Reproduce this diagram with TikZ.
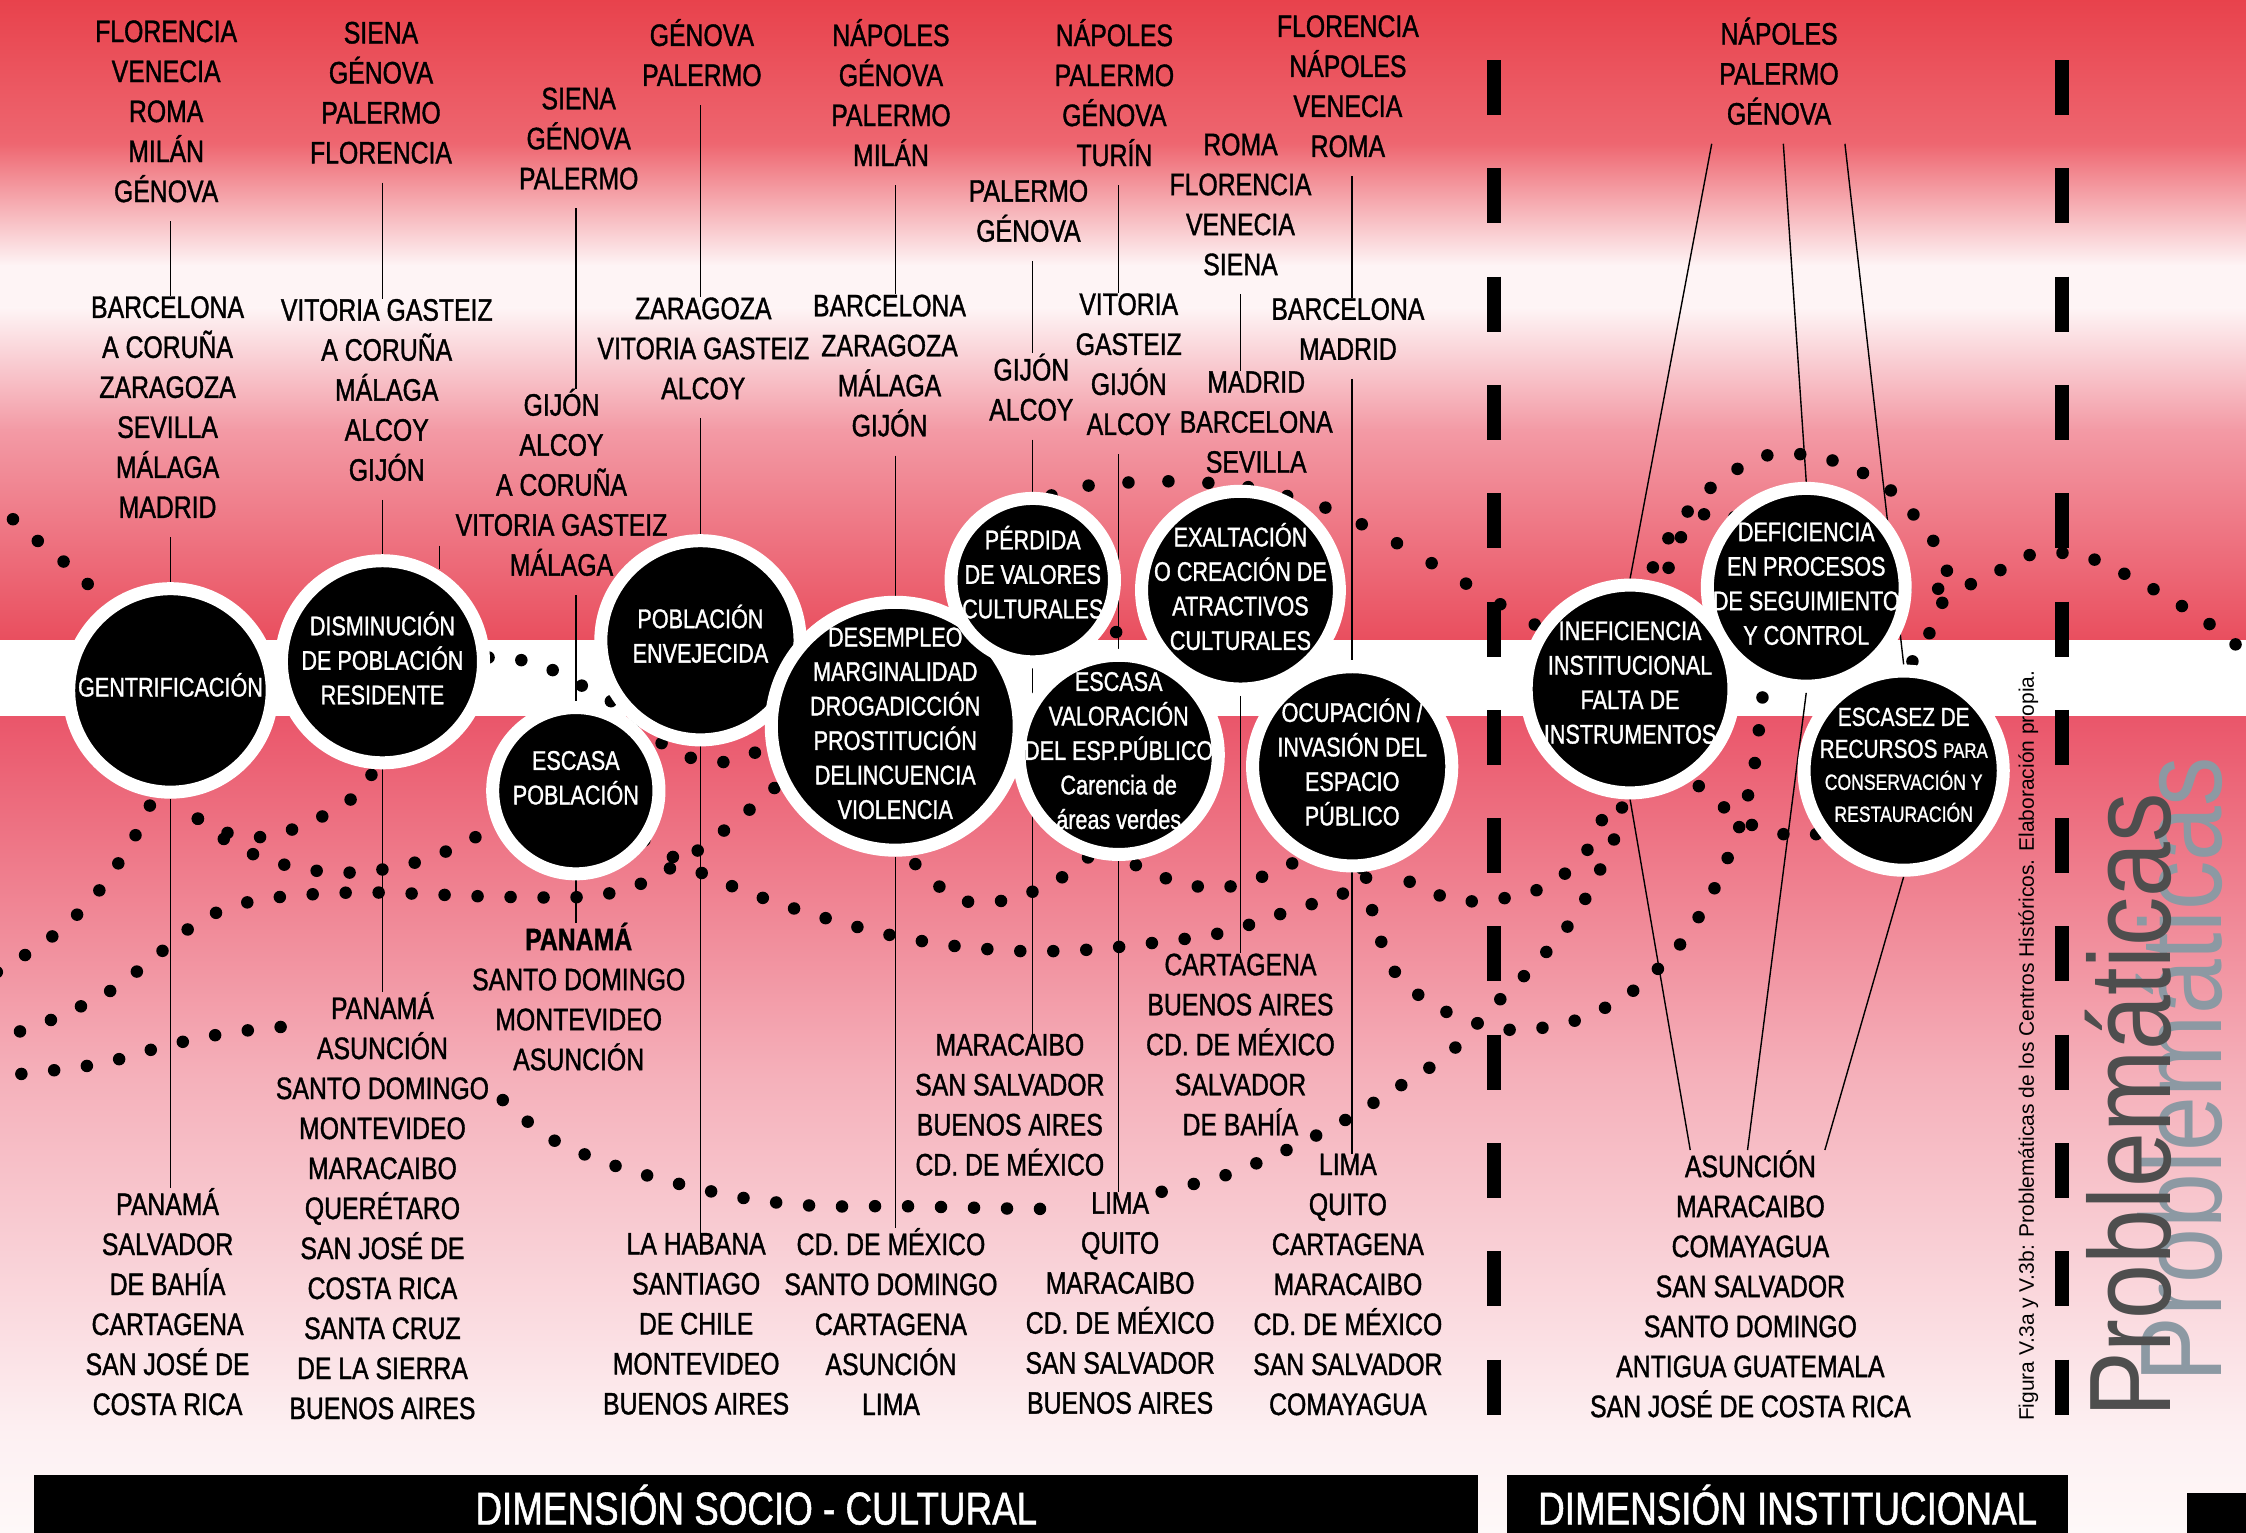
\documentclass[tikz,border=0pt]{standalone}
\usepackage{fontspec}
\setmainfont{Liberation Sans}
\newfontfamily\nar[FakeStretch=0.80,FakeBold=1.2]{Liberation Sans}
\newfontfamily\probf[FakeStretch=0.85]{Liberation Sans}
\usetikzlibrary{calc}
\pgfdeclarelayer{bgl}
\pgfdeclarelayer{lin}
\pgfsetlayers{bgl,lin,main}
\definecolor{rA}{HTML}{E8424C}
\definecolor{rB}{HTML}{EE6670}
\definecolor{wA}{HTML}{FEF4F5}
\definecolor{pA}{HTML}{F39AA5}
\definecolor{rC}{HTML}{E94E5E}
\definecolor{rD}{HTML}{EA566A}
\definecolor{pB}{HTML}{F5B0BA}
\definecolor{pC}{HTML}{FDF0F2}
\definecolor{pD}{HTML}{FEF8F8}
\definecolor{gdark}{HTML}{4E4E4E}
\definecolor{glight}{HTML}{8C99A3}
\begin{document}
\begin{tikzpicture}[x=1.4324pt,y=-1.4324pt,
  city/.style={font={\nar\fontsize{31}{40}\selectfont}, align=center, inner sep=0pt, text=black, yshift=-9pt,
    execute at begin node={\rule{0pt}{43pt}}, execute at end node={\rule[-19pt]{0pt}{19pt}}},
  ctext/.style={font={\nar\fontsize{27}{34.5}\selectfont}, align=center, text=white, inner sep=0pt,
    execute at begin node={\rule{0pt}{24pt}}, execute at end node={\rule[-6pt]{0pt}{6pt}}},
  prob/.style={circle, fill=black, draw=white, line width=13pt, minimum size=#1, inner sep=0pt},
  vline/.style={line width=1.4pt, draw=black},
  dots/.style={draw=black, line width=12.5pt, line cap=round, dash pattern=on 0pt off #1},
  dots/.default=33pt,
  dashv/.style={draw=black, line width=14pt, dash pattern=on 55pt off 53.3pt},
  bartext/.style={fill=black, text=white, inner sep=0pt, font={\nar\fontsize{46}{46}\selectfont}}
]
\useasboundingbox (0,0) rectangle (1568,1070.23);
% ---------- background ----------
\begin{pgfonlayer}{bgl}
\fill[top color=rA, bottom color=rB] (0,0) rectangle (1568,100.5);
\fill[top color=rB, bottom color=wA] (0,100) rectangle (1568,185.5);
\fill[wA] (0,185) rectangle (1568,215.5);
\fill[top color=wA, bottom color=pA] (0,215) rectangle (1568,300.5);
\fill[top color=pA, bottom color=rC] (0,300) rectangle (1568,447.5);
\fill[white] (0,447) rectangle (1568,500.5);
\fill[top color=rD, bottom color=pB] (0,500) rectangle (1568,750.5);
\fill[top color=pB, bottom color=pC] (0,750) rectangle (1568,1000.5);
\fill[top color=pC, bottom color=pD] (0,1000) rectangle (1568,1070.23);
\end{pgfonlayer}
% ---------- city groups ----------
\node[city] (t1) at (116,78) {FLORENCIA\\VENECIA\\ROMA\\MILÁN\\GÉNOVA};
\node[city] (m1) at (117,284.5) {BARCELONA\\A CORUÑA\\ZARAGOZA\\SEVILLA\\MÁLAGA\\MADRID};
\node[city] (b1) at (117,909) {PANAMÁ\\SALVADOR\\DE BAHÍA\\CARTAGENA\\SAN JOSÉ DE\\COSTA RICA};
\node[city] (t2) at (266,65) {SIENA\\GÉNOVA\\PALERMO\\FLORENCIA};
\node[city] (m2) at (270,272.5) {VITORIA GASTEIZ\\A CORUÑA\\MÁLAGA\\ALCOY\\GIJÓN};
\node[city] (b2) at (267,842) {PANAMÁ\\ASUNCIÓN\\SANTO DOMINGO\\MONTEVIDEO\\MARACAIBO\\QUERÉTARO\\SAN JOSÉ DE\\COSTA RICA\\SANTA CRUZ\\DE LA SIERRA\\BUENOS AIRES};
\node[city] (t3) at (404,97) {SIENA\\GÉNOVA\\PALERMO};
\node[city] (m3) at (392,337) {GIJÓN\\ALCOY\\A CORUÑA\\VITORIA GASTEIZ\\MÁLAGA};
\node[city] (b3) at (404,696) {\textbf{PANAMÁ}\\SANTO DOMINGO\\MONTEVIDEO\\ASUNCIÓN};
\node[city] (t4) at (490,37) {GÉNOVA\\PALERMO};
\node[city] (m4) at (491,243.5) {ZARAGOZA\\VITORIA GASTEIZ\\ALCOY};
\node[city] (b4) at (486,924.5) {LA HABANA\\SANTIAGO\\DE CHILE\\MONTEVIDEO\\BUENOS AIRES};
\node[city] (t5) at (622,65) {NÁPOLES\\GÉNOVA\\PALERMO\\MILÁN};
\node[city] (m5) at (621,255.5) {BARCELONA\\ZARAGOZA\\MÁLAGA\\GIJÓN};
\node[city] (b5) at (622,923) {CD. DE MÉXICO\\SANTO DOMINGO\\CARTAGENA\\ASUNCIÓN\\LIMA};
\node[city] (t6) at (718,147.5) {PALERMO\\GÉNOVA};
\node[city] (m6) at (720,270.5) {GIJÓN\\ALCOY};
\node[city] (b6) at (705,771.5) {MARACAIBO\\SAN SALVADOR\\BUENOS AIRES\\CD. DE MÉXICO};
\node[city] (t7) at (778,65) {NÁPOLES\\PALERMO\\GÉNOVA\\TURÍN};
\node[city] (m7) at (788,254.5) {VITORIA\\GASTEIZ\\GIJÓN\\ALCOY};
\node[city] (b7) at (782,910) {LIMA\\QUITO\\MARACAIBO\\CD. DE MÉXICO\\SAN SALVADOR\\BUENOS AIRES};
\node[city] (t8) at (866,143) {ROMA\\FLORENCIA\\VENECIA\\SIENA};
\node[city] (m8) at (877,295) {MADRID\\BARCELONA\\SEVILLA};
\node[city] (b8) at (866,729.5) {CARTAGENA\\BUENOS AIRES\\CD. DE MÉXICO\\SALVADOR\\DE BAHÍA};
\node[city] (t9) at (941,60.5) {FLORENCIA\\NÁPOLES\\VENECIA\\ROMA};
\node[city] (m9) at (941,230) {BARCELONA\\MADRID};
\node[city] (b9) at (941,897) {LIMA\\QUITO\\CARTAGENA\\MARACAIBO\\CD. DE MÉXICO\\SAN SALVADOR\\COMAYAGUA};
\node[city] (t10) at (1242,50) {NÁPOLES\\PALERMO\\GÉNOVA};
\node[city] (b10) at (1222,896.5) {ASUNCIÓN\\MARACAIBO\\COMAYAGUA\\SAN SALVADOR\\SANTO DOMINGO\\ANTIGUA GUATEMALA\\SAN JOSÉ DE COSTA RICA};
% ---------- circles ----------
\node[prob=203.5pt] (gen) at (119,482) {};
\node[prob=202.1pt] (dis) at (267,462) {};
\node[prob=166.3pt] (esc) at (402,552) {};
\node[prob=199.2pt] (pob) at (489,447) {};
\node[prob=247.9pt] (des) at (625,507) {};
\node[prob=163.4pt] (per) at (721,405) {};
\node[prob=197.8pt] (exa) at (866,412) {};
\node[prob=199.2pt] (val) at (781,527) {};
\node[prob=199.2pt] (ocu) at (944,535) {};
\node[prob=197.8pt] (def) at (1261,410) {};
\node[prob=207.8pt] (ine) at (1138,481) {};
\node[prob=199.2pt] (ecz) at (1329,538) {};
\node[ctext] (gen-t) at (119,480) {GENTRIFICACIÓN};
\node[ctext] (dis-t) at (267,461.5) {DISMINUCIÓN\\DE POBLACIÓN\\RESIDENTE};
\node[ctext] (esc-t) at (402,545) {ESCASA\\POBLACIÓN};
\node[ctext] (pob-t) at (489,444.5) {POBLACIÓN\\ENVEJECIDA};
\node[ctext] (des-t) at (625,507) {DESEMPLEO\\MARGINALIDAD\\DROGADICCIÓN\\PROSTITUCIÓN\\DELINCUENCIA\\VIOLENCIA};
\node[ctext] (per-t) at (721,401.5) {PÉRDIDA\\DE VALORES\\CULTURALES};
\node[ctext] (exa-t) at (866,411.5) {EXALTACIÓN\\O CREACIÓN DE\\ATRACTIVOS\\CULTURALES};
\node[ctext] (val-t) at (781,526) {ESCASA\\VALORACIÓN\\DEL ESP.PÚBLICO\\Carencia de\\áreas verdes};
\node[ctext] (ocu-t) at (944,534) {OCUPACIÓN /\\INVASIÓN DEL\\ESPACIO\\PÚBLICO};
\node[ctext] (ine-t) at (1138,478.5) {INEFICIENCIA\\INSTITUCIONAL\\FALTA DE\\INSTRUMENTOS};
\node[ctext] (def-t) at (1261,409.5) {DEFICIENCIA\\EN PROCESOS\\DE SEGUIMIENTO\\Y CONTROL};
\node[ctext, font={\nar\fontsize{26}{32}\selectfont}] (ecz-t) at (1329,536) {ESCASEZ DE\\RECURSOS {\fontsize{21}{32}\selectfont PARA}\\{\fontsize{22}{32}\selectfont CONSERVACIÓN Y}\\{\fontsize{22}{32}\selectfont RESTAURACIÓN}};
% ---------- connectors and dotted curves ----------
\begin{pgfonlayer}{lin}
\draw[vline] (t1.south -| gen) -- (m1.north -| gen);
\draw[vline] (m1.south -| gen) -- (gen);
\draw[vline] (gen) -- (b1.north -| gen);
\draw[vline] (t2.south -| dis) -- (m2.north -| dis);
\draw[vline] (m2.south -| dis) -- (dis);
\draw[vline] (dis) -- (b2.north -| dis);
\coordinate (stubA) at (307,381);
\coordinate (stubB) at (307,397);
\draw[vline] (stubA) -- (stubB);
\draw[vline] (t3.south -| esc) -- (m3.north -| esc);
\draw[vline] (m3.south -| esc) -- (esc);
\draw[vline] (esc) -- (b3.north -| esc);
\draw[vline] (t4.south -| pob) -- (m4.north -| pob);
\draw[vline] (m4.south -| pob) -- (pob);
\draw[vline] (pob) -- (b4.north -| pob);
\draw[vline] (t5.south -| des) -- (m5.north -| des);
\draw[vline] (m5.south -| des) -- (des);
\draw[vline] (des) -- (b5.north -| des);
\draw[vline] (t6.south -| per) -- (m6.north -| per);
\draw[vline] (m6.south -| per) -- (per);
\draw[vline] (per) -- (b6.north -| per);
\draw[vline] (t7.south -| val) -- (m7.north -| val);
\draw[vline] (m7.south -| val) -- (val);
\draw[vline] (val) -- (b7.north -| val);
\draw[vline] (t8.south -| exa) -- (m8.north -| exa);
\draw[vline] (m8.south -| exa) -- (exa);
\draw[vline] (exa) -- (b8.north -| exa);
\draw[vline] (t9.south -| ocu) -- (m9.north -| ocu);
\draw[vline] (m9.south -| ocu) -- (ocu);
\draw[vline] (ocu) -- (b9.north -| ocu);
\path (t10.south) ++(-47,0) coordinate (fa) ++(50,0) coordinate (fb) ++(43,0) coordinate (fc);
\path (b10.north) ++(-42,0) coordinate (ga) ++(40,0) coordinate (gb) ++(54,0) coordinate (gc);
\draw[vline] (fa) -- (ine.north);
\draw[vline] (fb) -- (def.north);
\draw[vline] (fc) -- (ecz.north);
\draw[vline] (ine.south) -- (ga);
\draw[vline] (def.south) -- (gb);
\draw[vline] (ecz.south) -- (gc);
% dotted curves
\draw[dots] plot[smooth] coordinates {(-8,347) (22,374) (57,403) (90,440) (150,462) (267,456) (330,457) (345,460) (365,461) (384,467) (403,477) (422,487) (438,497) (454,512) (469,524) (486,530) (505,532) (523,527) (560,512)};
\draw[dots] plot[smooth] coordinates {(-8,727) (31,714) (75,693) (106,670) (141,642) (182,628) (251,623) (345,626) (409,626) (445,618) (481,598) (514,573) (542,549) (565,530)};
\draw[dots] plot[smooth] coordinates {(110,540) (103,567) (85,599) (65,627) (40,651) (14,669) (-8,682)};
\draw[dots] plot[smooth] coordinates {(119,530) (135,568) (152,579) (171,584) (192,583) (225,570) (256,548) (267,510)};
\draw[dots] plot[smooth] coordinates {(119,530) (135,568) (167,592) (208,606) (251,609) (294,601) (331,585) (360,565)};
\draw[dots] plot[smooth] coordinates {(-8,752) (31,748) (73,742) (116,730) (160,721) (206,716)};
\draw[dots] plot[smooth] coordinates {(351,768) (383,794) (424,812) (472,826) (523,837) (572,842) (624,842) (674,843) (722,844) (745,843)};
\draw[dots] plot[smooth] coordinates {(811,832) (857,820) (900,802) (939,782) (976,759) (1011,736) (1041,704) (1072,673) (1100,639) (1121,599) (1130,576) (1136,540)};
\draw[dots] plot[smooth] coordinates {(430,575) (459,592) (493,611) (533,627) (573,640) (618,652) (663,660) (713,664) (760,663) (807,658) (854,651) (900,636) (941,622) (951,603) (946,570)};
\draw[dots] plot[smooth] coordinates {(625,560) (635,598) (667,627) (689,629) (710,627) (746,610) (760,598) (781,560)};
\draw[dots] plot[smooth] coordinates {(781,560) (792,603) (829,617) (848,620) (870,616) (908,599) (944,560)};
\draw[dots=40pt] plot[smooth] coordinates {(721,400) (734,346) (760,339) (815,336) (871,340) (927,355) (973,378) (1011,400) (1051,424) (1070,435) (1120,470)};
\draw[dots] plot[smooth] coordinates {(721,405) (760,425) (775,437) (788,453) (795,480)};
\draw[dots] plot[smooth] coordinates {(1140,440) (1157,389) (1187,347) (1224,321) (1248,317) (1275,320) (1316,339) (1348,375) (1360,405) (1347,442) (1335,462) (1329,500)};
\draw[dots] plot[smooth] coordinates {(1150,440) (1172,378) (1188,360) (1205,357) (1225,375)};
\draw[dots] plot[smooth] coordinates {(1261,410) (1334,412) (1379,407) (1412,389) (1434,386) (1458,389) (1501,410) (1543,436) (1580,466)};
\draw[dots] plot[smooth] coordinates {(950,590) (960,644) (977,683) (1013,708) (1055,719) (1098,713) (1137,694) (1170,663) (1194,626) (1213,581) (1224,539) (1229,500) (1232,480) (1245,450)};
\draw[dots] plot[smooth] coordinates {(944,560) (975,608) (994,620) (1017,629) (1042,628) (1066,624) (1087,614) (1105,598) (1117,576) (1125,550)};
\draw[dots] plot[smooth] coordinates {(1150,520) (1185,548) (1200,561) (1221,575) (1243,582) (1266,583) (1290,570)};
\end{pgfonlayer}
% ---------- dashed separators ----------
\draw[dashv] (1043,41.9) -- (1043,988);
\draw[dashv] (1439.6,41.9) -- (1439.6,988);
% ---------- titles ----------
\node[rotate=90, inner sep=0pt, font={\fontsize{21}{21}\selectfont}] (caption) at (1416,730) {Figura V.3a y V.3b: Problemáticas de los Centros Históricos. Elaboración propia.};
\node[rotate=90, anchor=base west, inner sep=0pt, text=glight, font={\probf\fontsize{116}{116}\selectfont}] (probl) at (1551,965) {Problemáticas};
\node[rotate=90, anchor=base west, inner sep=0pt, text=gdark, font={\probf\fontsize{116}{116}\selectfont}] (probd) at (1515,990) {Problemáticas};
\node[bartext, minimum width=1443.9pt, minimum height=58.7pt] (bar1) at (528,1050.5) {DIMENSIÓN SOCIO - CULTURAL};
\node[bartext, minimum width=561.5pt, minimum height=58.7pt] (bar2) at (1248,1050.5) {DIMENSIÓN INSTITUCIONAL};
\node[fill=black, inner sep=0pt, minimum width=58.7pt, minimum height=41.5pt] (corner) at (1547.5,1056.5) {};
\end{tikzpicture}
\end{document}
